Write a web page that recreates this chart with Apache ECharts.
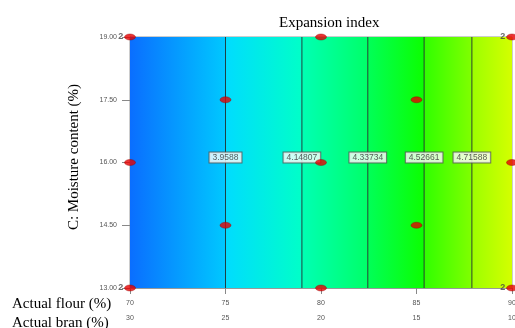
<!DOCTYPE html>
<html>
<head>
<meta charset="utf-8">
<script src="https://cdn.jsdelivr.net/npm/echarts@6/dist/echarts.min.js"></script>
<style>
  html, body { margin: 0; padding: 0; background: #fff; }
  #chart { width: 515px; height: 328px; }
</style>
</head>
<body>
<div id="chart"></div>
<script>
// axis ticks
const flourTicks = [70, 75, 80, 85, 90];
const branTicks = [30, 25, 20, 15, 10];
const moistureTicks = [13, 14.5, 16, 17.5, 19];

// contour lines (level + where they cross, in flour %)
const contourLevels = [3.9588, 4.14807, 4.33734, 4.52661, 4.71588];
const contourFlour = [75.0, 79.0, 82.45, 85.4, 87.9];

// colour bands between contours, left/right colour
const bandEdges = [70, 75.0, 79.0, 82.45, 85.4, 87.9, 90];
const bandLeft = ['#0a6eff', '#00dcff', '#00ffb4', '#00ff58', '#30ff00', '#9cff00'];
const bandRight = ['#00c8ff', '#00ffc8', '#00ff68', '#0cff00', '#80ff00', '#d4ff00'];

// design points: flour, moisture, replicates
const designPoints = [
  [70, 19, 2], [80, 19, 1], [90, 19, 2],
  [75, 17.5, 1], [85, 17.5, 1],
  [70, 16, 1], [80, 16, 1], [90, 16, 1],
  [75, 14.5, 1], [85, 14.5, 1],
  [70, 13, 2], [80, 13, 1], [90, 13, 2]
];

var myChart = echarts.init(document.getElementById('chart'));

var bands = [];
for (var i = 0; i < bandLeft.length; i++) {
  bands.push([
    {
      xAxis: bandEdges[i],
      itemStyle: {
        color: new echarts.graphic.LinearGradient(0, 0, 1, 0, [
          { offset: 0, color: bandLeft[i] },
          { offset: 1, color: bandRight[i] }
        ])
      }
    },
    { xAxis: bandEdges[i + 1] }
  ]);
}

var series = [{
  type: 'scatter',
  data: [],
  silent: true,
  markArea: { silent: true, data: bands }
}];

contourFlour.forEach(function (x) {
  series.push({
    type: 'line',
    data: [[x, 13], [x, 19]],
    symbol: 'none',
    silent: true,
    lineStyle: { color: 'rgba(25,35,35,0.85)', width: 1 },
    z: 3
  });
});

series.push({
  type: 'scatter',
  data: contourFlour.map(function (x, i) { return [x, 16.12, contourLevels[i]]; }),
  symbolSize: 0,
  silent: true,
  z: 5,
  label: {
    show: true,
    position: 'inside',
    formatter: function (p) { return String(p.value[2]); },
    fontFamily: 'Liberation Sans',
    fontSize: 8.5,
    color: '#333',
    backgroundColor: '#fff',
    borderColor: '#555',
    borderWidth: 1,
    padding: [1, 3, 0, 3]
  }
});

series.push({
  type: 'scatter',
  data: designPoints,
  symbol: 'circle',
  symbolSize: [11, 6],
  z: 6,
  itemStyle: { color: '#e60000', borderColor: '#900', borderWidth: 0.5 },
  label: {
    show: true,
    position: 'left',
    distance: 1,
    formatter: function (p) { return p.value[2] > 1 ? String(p.value[2]) : ''; },
    fontFamily: 'Liberation Sans',
    fontSize: 9,
    fontWeight: 'bold',
    color: '#444'
  }
});

myChart.setOption({
  animation: false,
  title: {
    text: 'Expansion index',
    left: 274,
    top: 11,
    textStyle: { fontFamily: 'Liberation Serif', fontSize: 15, fontWeight: 'normal', color: '#000' }
  },
  grid: {
    left: 130, right: 3, top: 37, bottom: 40,
    outerBoundsMode: 'none',
    containLabel: false,
    show: true, borderColor: '#999', borderWidth: 1
  },
  xAxis: {
    type: 'value',
    min: 70, max: 90, interval: 5,
    axisLine: { show: true, lineStyle: { color: '#999' } },
    axisTick: { show: true, length: 6, lineStyle: { color: '#888' } },
    splitLine: { show: false },
    axisLabel: {
      margin: 8,
      formatter: function (v) {
        var i = flourTicks.indexOf(v);
        return '{f|' + v + '}\n{b|' + branTicks[i] + '}';
      },
      rich: {
        f: { fontFamily: 'Liberation Sans', fontSize: 7, color: '#555', lineHeight: 15 },
        b: { fontFamily: 'Liberation Sans', fontSize: 7, color: '#555', lineHeight: 15 }
      }
    }
  },
  yAxis: {
    type: 'value',
    min: 13, max: 19,
    axisLine: { show: true, lineStyle: { color: '#999' } },
    axisTick: { show: true, length: 8, customValues: moistureTicks, lineStyle: { color: '#888' } },
    splitLine: { show: false },
    axisLabel: {
      margin: 13,
      customValues: moistureTicks,
      formatter: function (v) { return v.toFixed(2); },
      fontFamily: 'Liberation Sans',
      fontSize: 7,
      color: '#555'
    }
  },
  graphic: [
    {
      type: 'text', x: 74, y: 157, rotation: Math.PI / 2,
      style: {
        text: 'C: Moisture content (%)', font: '15px "Liberation Serif"', fill: '#000',
        align: 'center', verticalAlign: 'middle'
      }
    },
    {
      type: 'text', left: 12, top: 297,
      style: { text: 'Actual flour (%)', font: '15px "Liberation Serif"', fill: '#000' }
    },
    {
      type: 'text', left: 12, top: 316,
      style: { text: 'Actual bran (%)', font: '15px "Liberation Serif"', fill: '#000' }
    }
  ],
  series: series
});
</script>
</body>
</html>
